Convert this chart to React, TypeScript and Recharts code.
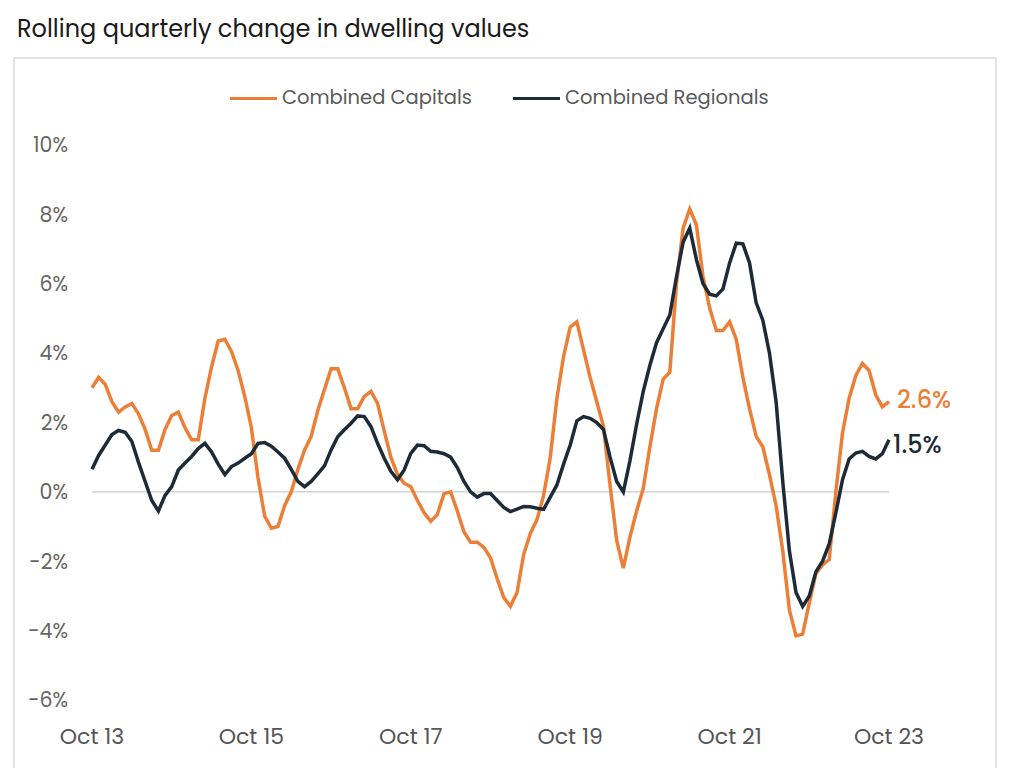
import React from "react";
import {
  LineChart,
  Line,
  XAxis,
  YAxis,
  ReferenceLine,
} from "recharts";

const MONTHS = ["Jan", "Feb", "Mar", "Apr", "May", "Jun", "Jul", "Aug", "Sep", "Oct", "Nov", "Dec"];

// monthly labels Oct 13 .. Oct 23
const categories: string[] = [];
for (let i = 0; i <= 120; i++) {
  const m = (9 + i) % 12;
  const y = 13 + Math.floor((9 + i) / 12);
  categories.push(`${MONTHS[m]} ${y}`);
}

const capitals = [
  3.0, 3.3, 3.1, 2.6, 2.3, 2.45, 2.55, 2.25, 1.8, 1.2, 1.2, 1.8, 2.2, 2.3, 1.85, 1.5, 1.5, 2.7, 3.6, 4.35,
  4.4, 4.05, 3.5, 2.75, 1.85, 0.4, -0.7, -1.05, -1.0, -0.4, 0.0, 0.65, 1.2, 1.6, 2.35, 2.95, 3.55, 3.55, 3.0, 2.4,
  2.4, 2.75, 2.9, 2.55, 1.75, 1.0, 0.5, 0.25, 0.15, -0.25, -0.6, -0.85, -0.65, -0.05, 0.0, -0.55, -1.15, -1.45, -1.45, -1.6,
  -1.9, -2.5, -3.05, -3.3, -2.9, -1.8, -1.2, -0.8, -0.1, 1.0, 2.7, 3.9, 4.75, 4.9, 4.1, 3.3, 2.6, 1.9, 0.2, -1.4,
  -2.2, -1.3, -0.55, 0.1, 1.3, 2.4, 3.25, 3.45, 6.0, 7.6, 8.15, 7.7, 6.2, 5.3, 4.65, 4.65, 4.9, 4.4, 3.3, 2.4,
  1.6, 1.3, 0.5, -0.4, -1.7, -3.4, -4.15, -4.1, -3.2, -2.35, -2.1, -1.95, 0.0, 1.7, 2.7, 3.35, 3.7, 3.5, 2.8, 2.45,
  2.6,
];

const regionals = [
  0.65, 1.05, 1.35, 1.65, 1.77, 1.72, 1.45, 0.85, 0.3, -0.25, -0.55, -0.1, 0.15, 0.63, 0.83, 1.02, 1.25, 1.4, 1.15, 0.8,
  0.5, 0.73, 0.83, 0.97, 1.1, 1.4, 1.42, 1.32, 1.15, 0.97, 0.65, 0.3, 0.15, 0.3, 0.52, 0.75, 1.21, 1.59, 1.79, 1.98,
  2.19, 2.17, 1.88, 1.4, 0.97, 0.59, 0.35, 0.63, 1.11, 1.35, 1.33, 1.17, 1.15, 1.1, 1.0, 0.7, 0.3, 0.0, -0.15, -0.05,
  -0.05, -0.25, -0.45, -0.57, -0.5, -0.42, -0.43, -0.47, -0.5, -0.15, 0.2, 0.8, 1.35, 2.05, 2.17, 2.12, 2.0, 1.8, 1.0, 0.3,
  0.0, 0.9, 1.95, 2.9, 3.65, 4.3, 4.7, 5.1, 6.2, 7.2, 7.6, 6.7, 6.0, 5.7, 5.65, 5.85, 6.6, 7.17, 7.15, 6.6,
  5.45, 4.95, 4.0, 2.6, 0.3, -1.7, -2.9, -3.3, -3.0, -2.3, -2.0, -1.5, -0.6, 0.35, 0.95, 1.12, 1.17, 1.02, 0.95, 1.1,
  1.5,
];

const yTicks = [-6, -4, -2, 0, 2, 4, 6, 8, 10];

const series = [
  { key: "capitals", name: "Combined Capitals", color: "#ec7f37" },
  { key: "regionals", name: "Combined Regionals", color: "#1d2b38" },
];

const data = categories.map((month, i) => ({
  month,
  capitals: capitals[i],
  regionals: regionals[i],
}));

const FONT = "Poppins, 'Open Sans', sans-serif";

const endLabel = (color: string, dx: number, dy: number, last: number) => (props: any) => {
  if (props.index !== last) return null;
  return (
    <text
      x={props.x + dx}
      y={props.y + dy}
      fill={color}
      fontSize={24}
      fontWeight={500}
      fontFamily={FONT}
      dominantBaseline="central"
    >
      {props.value.toFixed(1)}%
    </text>
  );
};

export default function App() {
  return (
    <div
      style={{
        position: "absolute",
        left: 0,
        top: 0,
        width: 1024,
        height: 768,
        background: "#fff",
        overflow: "hidden",
        fontFamily: FONT,
      }}
    >
      <div
        style={{
          position: "absolute",
          left: 17,
          top: 11,
          fontSize: 24,
          color: "#1a1a1a",
        }}
      >
        Rolling quarterly change in dwelling values
      </div>
      <div
        style={{
          position: "absolute",
          left: 13,
          top: 57,
          width: 980,
          height: 760,
          border: "2px solid #e2e2e2",
        }}
      />
      {/* legend */}
      <div
        style={{
          position: "absolute",
          left: 230,
          top: 84,
          display: "flex",
          gap: 41,
          fontSize: 19.5,
          lineHeight: "28px",
          color: "#5a5a5a",
        }}
      >
        {series.map((s) => (
          <div key={s.key} style={{ display: "flex", alignItems: "center" }}>
            <span
              style={{
                display: "inline-block",
                width: 47,
                height: 3,
                background: s.color,
                marginRight: 5,
              }}
            />
            {s.name}
          </div>
        ))}
      </div>
      <div style={{ position: "absolute", left: 0, top: 0 }}>
        <LineChart
          width={1024}
          height={768}
          data={data}
          margin={{ top: 145, right: 135, bottom: 38, left: 0 }}
        >
          <XAxis
            dataKey="month"
            interval={23}
            axisLine={false}
            tickLine={false}
            tickMargin={22}
            tick={{ fontSize: 22, fill: "#555", fontFamily: FONT }}
          />
          <YAxis
            type="number"
            domain={[-6, 10]}
            ticks={yTicks}
            width={92}
            axisLine={false}
            tickLine={false}
            tickMargin={18}
            tickFormatter={(v) => `${v}%`}
            tick={{ fontSize: 20.5, fill: "#666", fontFamily: FONT }}
          />
          <ReferenceLine y={0} stroke="#bdbdbd" strokeWidth={1} />
          {series.map((s, i) => (
            <Line
              key={s.key}
              type="linear"
              dataKey={s.key}
              name={s.name}
              stroke={s.color}
              strokeWidth={3.5}
              dot={false}
              isAnimationActive={false}
              label={i === 0 ? endLabel(s.color, 8, -2, 120) : endLabel(s.color, 4, 5, 120)}
            />
          ))}
        </LineChart>
      </div>
    </div>
  );
}
